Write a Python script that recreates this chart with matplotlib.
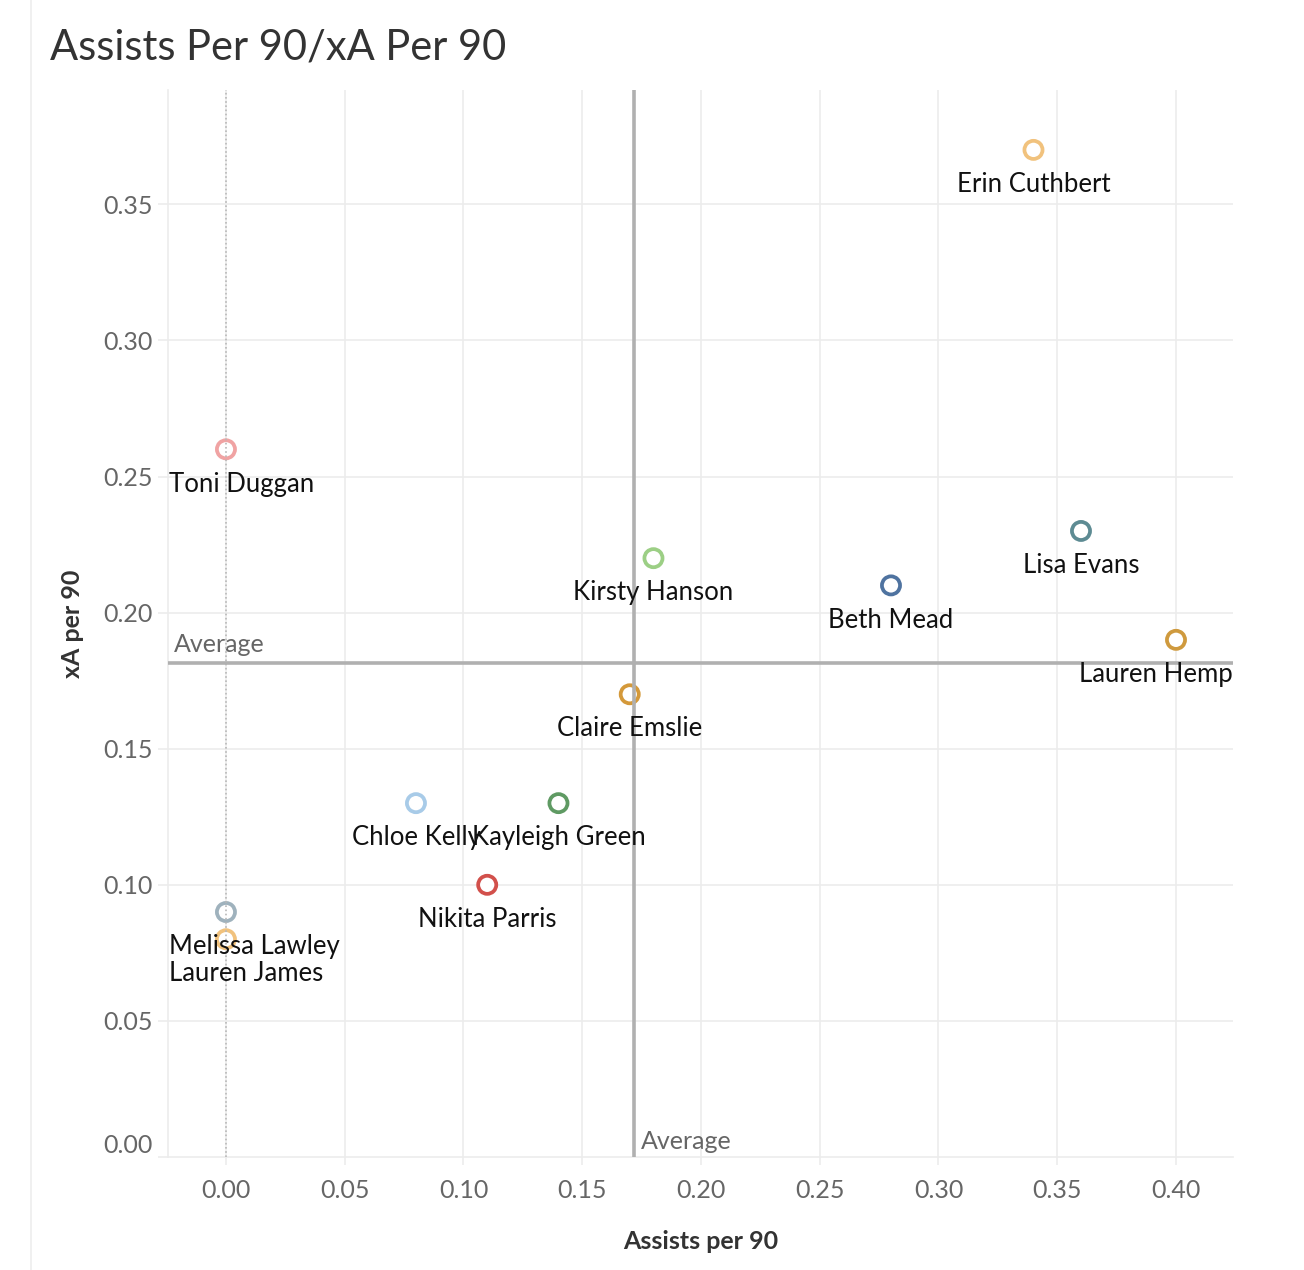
import numpy as np
import matplotlib.pyplot as plt
from matplotlib.lines import Line2D

# player data
players = ["Erin Cuthbert", "Toni Duggan", "Lisa Evans", "Kirsty Hanson", "Beth Mead",
           "Lauren Hemp", "Claire Emslie", "Chloe Kelly", "Kayleigh Green",
           "Nikita Parris", "Melissa Lawley", "Lauren James"]
assists_p90 = [0.34, 0.00, 0.36, 0.18, 0.28, 0.40, 0.17, 0.08, 0.14, 0.11, 0.00, 0.00]
xa_p90 = [0.37, 0.26, 0.23, 0.22, 0.21, 0.19, 0.17, 0.13, 0.13, 0.10, 0.09, 0.08]
colors = ["#f1c27d", "#f0a3a3", "#5d8b93", "#9ccf85", "#4f73a0", "#cf9a3e",
          "#d4993a", "#a8cbe8", "#5f9a63", "#d2504b", "#9fb2bd", "#f1c27d"]
x_ticks = [0.00, 0.05, 0.10, 0.15, 0.20, 0.25, 0.30, 0.35, 0.40]
y_ticks = [0.00, 0.05, 0.10, 0.15, 0.20, 0.25, 0.30, 0.35]

plt.rcParams['font.family'] = ['Lato', 'DejaVu Sans']

W, H = 1304, 1270
fig = plt.figure(figsize=(W / 100, H / 100), dpi=100)
ax = fig.add_axes([168 / W, 1 - 1157 / H, (1233 - 168) / W, (1157 - 90) / H])

ax.set_xlim(-0.0244, 0.424)
ax.set_ylim(0, 0.392)

# grid
for t in x_ticks:
    ax.axvline(t, color="#ececec", lw=1.2, zorder=0)
for t in y_ticks[1:]:
    ax.axhline(t, color="#ececec", lw=1.2, zorder=0)
ax.axvline(0, color="#b8b8b8", lw=1.2, ls=(0, (1, 1.5)), zorder=4)

for s in ["top", "right"]:
    ax.spines[s].set_visible(False)
ax.spines["left"].set_color("#ececec")
ax.spines["bottom"].set_color("#ececec")
ax.spines["left"].set_linewidth(1.2)
ax.spines["bottom"].set_linewidth(1.2)

ax.set_xticks(x_ticks)
ax.set_xticklabels([f"{t:.2f}" for t in x_ticks])
ax.set_yticks(y_ticks)
ax.set_yticklabels([f"{t:.2f}" for t in y_ticks])
ax.tick_params(axis="x", length=6, color="#ececec", width=1.2, labelsize=18,
               labelcolor="#666666", pad=10)
ax.tick_params(axis="y", length=7, color="#ececec", width=1.2, labelsize=18,
               labelcolor="#666666", pad=4)
ax.get_yticklabels()[0].set_verticalalignment("bottom")

# markers
ax.scatter(assists_p90, xa_p90, s=170, facecolors="white", edgecolors=colors,
           linewidths=2.7, zorder=3)

# average lines
avg_x = np.mean(assists_p90)
avg_y = np.mean(xa_p90)
ax.axvline(avg_x, color="#b0b0b0", lw=2.6, zorder=5)
ax.axhline(avg_y, color="#b0b0b0", lw=2.6, zorder=5)
ax.annotate("Average", (-0.0244, avg_y), xytext=(4, 5), textcoords="offset points",
            ha="left", va="bottom", fontsize=18, color="#666666")
ax.annotate("Average", (avg_x, 0), xytext=(5, 3), textcoords="offset points",
            ha="left", va="bottom", fontsize=18, color="#666666")

# labels below markers, kept inside the pane
texts = []
for name, x, y in zip(players, assists_p90, xa_p90):
    t = ax.annotate(name, (x, y), xytext=(0, -25), textcoords="offset points",
                    ha="center", va="center", fontsize=18.5, color="#111111", zorder=6)
    texts.append(t)

fig.canvas.draw()
r = fig.canvas.get_renderer()
abox = ax.get_window_extent(r)
for t in texts:
    bb = t.get_window_extent(r)
    dx = 0
    if bb.x0 < abox.x0 + 1:
        dx = abox.x0 + 1 - bb.x0
    elif bb.x1 > abox.x1:
        dx = abox.x1 - bb.x1
    if dx:
        ox, oy = t.xyann
        t.xyann = (ox + dx * 72 / fig.dpi, oy)

ax.set_xlabel("Assists per 90", fontsize=18, fontweight="bold", color="#333333", labelpad=20)
ax.set_ylabel("xA per 90", fontsize=18, fontweight="bold", color="#333333", labelpad=14)

fig.text(50 / W, 1 - 47 / H, "Assists Per 90/xA Per 90", fontsize=30,
         color="#333333", ha="left", va="center")

# dashboard border line
fig.add_artist(Line2D([31 / W, 31 / W], [0, 1], transform=fig.transFigure,
                      color="#eeeeee", lw=1.2))

fig.savefig("out.png", dpi=100)
